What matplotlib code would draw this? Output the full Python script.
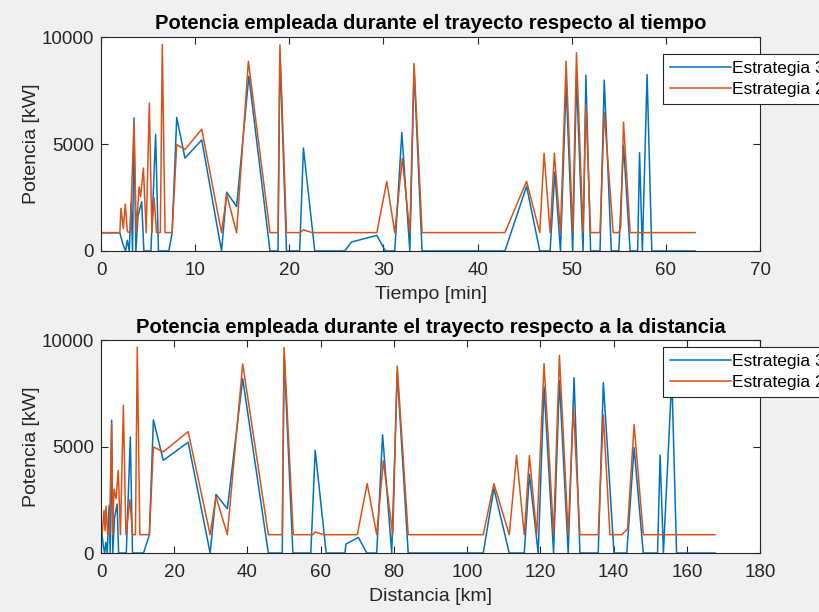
import numpy as np
import matplotlib.pyplot as plt

plt.rcParams['font.family'] = ['Liberation Sans', 'DejaVu Sans']

# Estrategia 3 (azul): tiempo [min], distancia [km], potencia [kW]
s3_t = [0, 2.0, 2.3, 2.6, 2.8, 3.0, 3.19, 3.35, 3.5, 3.7, 3.93, 4.32, 4.55, 5.3, 5.8, 6.1,
        7.2, 7.55, 8.04, 8.92, 10.7, 12.8, 13.35, 14.4, 15.7, 17.95, 18.8, 19.0, 19.7, 21.1,
        21.5, 22.7, 25.9, 26.6, 29.3, 30.2, 31.2, 31.95, 32.8, 33.25, 34.1, 42.9, 45.2, 46.6,
        47.7, 48.2, 48.8, 49.4, 50.1, 50.5, 51.2, 51.5, 52.0, 53.0, 53.45, 54.2, 55.0, 55.5,
        56.2, 57.0, 57.2, 57.5, 58.0, 58.5, 63.1]
s3_d = [0, 0.3, 0.6, 1.0, 1.3, 1.7, 2.2, 2.5, 2.9, 3.2, 3.7, 4.4, 4.8, 6.9, 8.0, 8.6,
        11.6, 13.2, 14.3, 17.0, 23.8, 29.8, 31.4, 34.5, 38.7, 45.7, 49.5, 50.0, 52.4, 57.3,
        58.5, 61.5, 66.6, 66.9, 70.3, 72.6, 75.3, 76.9, 79.4, 80.9, 83.9, 104.4, 107.3, 111.5,
        115.6, 117.0, 119.4, 121.0, 123.6, 125.2, 127.6, 129.2, 130.8, 135.8, 137.2, 140.1, 143.6, 145.6,
        148.1, 152.0, 152.7, 153.6, 155.9, 157.2, 167.7]
s3_p = [850, 850, 350, 0, 500, 0, 2240, 0, 6230, 0, 1650, 2300, 0, 0, 5450, 0,
        0, 850, 6250, 4350, 5200, 0, 2750, 2080, 8180, 0, 0, 9300, 0, 0,
        4820, 0, 0, 420, 730, 0, 0, 5550, 0, 8500, 0, 0, 3030, 0,
        0, 3700, 0, 7800, 0, 8100, 0, 8230, 0, 0, 8000, 0, 0, 4950,
        0, 0, 4600, 0, 8260, 0, 0]

# Estrategia 2 (naranja)
s2_t = [0, 2.0, 2.12, 2.37, 2.58, 2.8, 3.1, 3.5, 3.75, 4.04, 4.2, 4.5, 4.8, 5.13, 5.4, 5.63,
        5.9, 6.3, 6.51, 6.8, 7.55, 8.04, 8.92, 10.7, 12.8, 13.35, 14.4, 15.65, 17.95, 18.8,
        19.0, 19.7, 21.1, 21.5, 22.4, 29.3, 30.35, 31.2, 32.0, 32.8, 33.25, 34.1, 42.9, 45.2,
        46.6, 47.06, 47.7, 48.15, 48.8, 49.4, 50.1, 50.5, 51.2, 51.5, 52.0, 53.0, 53.45, 54.4,
        55.0, 55.2, 55.5, 56.2, 63.1]
s2_d = [0, 0.3, 0.82, 1.1, 1.37, 1.8, 2.3, 2.9, 3.2, 3.55, 4.1, 4.7, 5.3, 6.1, 6.8, 7.9,
        8.6, 9.4, 9.9, 10.6, 13.2, 14.3, 17.0, 23.8, 29.8, 31.4, 34.5, 38.7, 45.7, 49.5,
        50.0, 52.5, 57.8, 58.5, 60.7, 70.0, 72.7, 75.3, 77.1, 79.7, 80.9, 83.9, 104.4, 107.3,
        111.5, 113.5, 115.6, 117.0, 119.0, 121.0, 123.6, 125.2, 127.6, 129.0, 130.8, 135.8, 137.2, 139.0,
        142.2, 143.8, 145.6, 148.1, 167.7]
s2_p = [860, 860, 2000, 1050, 2200, 900, 860, 6050, 860, 3000, 2550, 3880, 860, 6930, 860, 2500,
        860, 860, 9670, 860, 860, 4980, 4750, 5700, 860, 2650, 860, 8880, 860, 860,
        9650, 860, 860, 990, 860, 860, 3260, 860, 4330, 860, 8780, 860, 860, 3260,
        860, 4580, 860, 4580, 860, 8890, 860, 9280, 860, 6850, 860, 860, 6480, 860,
        860, 1120, 6030, 860, 860]

blue = '#0072BD'
orange = '#D95319'

fig = plt.figure(figsize=(8.2, 6.12), dpi=100)
fig.patch.set_facecolor('#F0F0F0')

ax1 = fig.add_axes([0.1232, 0.5899, 0.8037, 0.349])
ax2 = fig.add_axes([0.1232, 0.0964, 0.8037, 0.348])

def style(ax):
    for s in ax.spines.values():
        s.set_color('#262626')
        s.set_linewidth(0.8)
    ax.tick_params(direction='in', top=True, right=True, labelsize=13.5,
                   colors='#262626', length=5, width=0.8)
    ax.tick_params(axis='x', pad=8)
    ax.tick_params(axis='y', pad=5)
    ax.set_ylim(0, 10000)
    ax.set_yticks([0, 5000, 10000])
    ax.set_ylabel('Potencia [kW]', fontsize=14, color='#262626', labelpad=1)

ax1.plot(s3_t, s3_p, color=blue, lw=1.1, label='Estrategia 3')
ax1.plot(s2_t, s2_p, color=orange, lw=1.1, label='Estrategia 2')
style(ax1)
ax1.set_xlim(0, 70)
ax1.set_xticks(np.arange(0, 71, 10))
ax1.set_xlabel('Tiempo [min]', fontsize=14, color='#262626', labelpad=5)
ax1.set_title('Potencia empleada durante el trayecto respecto al tiempo',
              fontsize=14.5, fontweight='bold', pad=6)

ax2.plot(s3_d, s3_p, color=blue, lw=1.1, label='Estrategia 3')
ax2.plot(s2_d, s2_p, color=orange, lw=1.1, label='Estrategia 2')
style(ax2)
ax2.set_xlim(0, 180)
ax2.set_xticks(np.arange(0, 181, 20))
ax2.set_xlabel('Distancia [km]', fontsize=14, color='#262626', labelpad=5)
ax2.set_title('Potencia empleada durante el trayecto respecto a la distancia',
              fontsize=14.5, fontweight='bold', pad=5)

# leyendas fuera del eje, recortadas por el borde derecho como en el original
for ax, ytop in [(ax1, 54), (ax2, 347)]:
    leg = ax.legend(loc='upper left', bbox_to_anchor=(663 / 820, 1 - ytop / 612),
                    bbox_transform=fig.transFigure, fontsize=12.5, handlelength=3.5,
                    frameon=True, fancybox=False, framealpha=1, borderpad=0.4,
                    labelspacing=0.35, handletextpad=0.1, borderaxespad=0)
    leg.get_frame().set_edgecolor('#262626')
    leg.get_frame().set_linewidth(0.8)

fig.savefig('out.png', dpi=100, facecolor=fig.get_facecolor())
